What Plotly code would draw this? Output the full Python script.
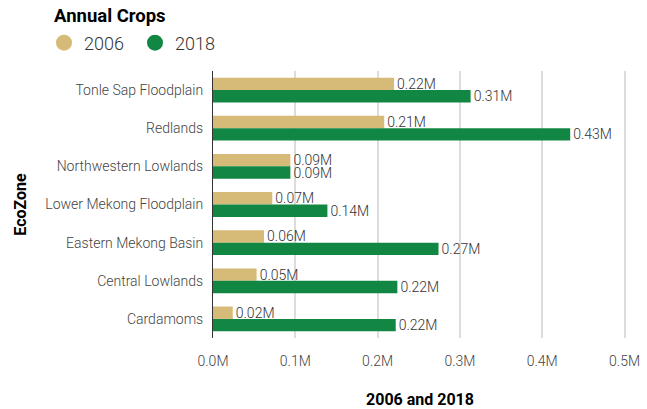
import plotly.graph_objects as go

zones = ["Tonle Sap Floodplain", "Redlands", "Northwestern Lowlands",
         "Lower Mekong Floodplain", "Eastern Mekong Basin", "Central Lowlands", "Cardamoms"]
crops_2006 = [0.220, 0.208, 0.094, 0.072, 0.062, 0.053, 0.024]
crops_2018 = [0.313, 0.434, 0.094, 0.139, 0.274, 0.224, 0.222]
series_names = ["2006", "2018"]
colors = ["#D6BA77", "#128743"]
x_ticks = [0, 0.1, 0.2, 0.3, 0.4, 0.5]
x_tick_labels = ["0.0M", "0.1M", "0.2M", "0.3M", "0.4M", "0.5M"]

FONT = "Roboto"
W, H = 647, 409
L, R, T, B = 213, 20, 71, 71
PW, PH = W - L - R, H - T - B

fig = go.Figure()
for name, vals, col in zip(series_names, [crops_2006, crops_2018], colors):
    fig.add_trace(go.Bar(
        y=zones, x=vals, orientation="h", name=name,
        marker=dict(color=col, line=dict(width=0)),
        texttemplate="%{x:.2f}M", textposition="outside",
        constraintext="none", cliponaxis=False,
        textfont=dict(family=FONT, size=14, color="#333333", weight=300),
        showlegend=False, hoverinfo="skip",
    ))
    fig.add_trace(go.Scatter(
        x=[None], y=[None], mode="markers", name=name,
        marker=dict(color=col, size=20, symbol="circle"),
        showlegend=True,
    ))

fig.add_annotation(
    text="<b>Annual Crops</b>", xref="paper", yref="paper",
    x=(52 - L) / PW, y=1 + (T - 15.5) / PH,
    xanchor="left", yanchor="middle", showarrow=False,
    font=dict(family=FONT, size=18.5, color="#000000"),
)

fig.update_layout(
    width=W, height=H,
    paper_bgcolor="white", plot_bgcolor="white",
    barmode="group", bargap=0.35, bargroupgap=0,
    margin=dict(l=L, r=R, t=T, b=B, autoexpand=False),
    font=dict(family=FONT, color="#333333"),
    legend=dict(
        orientation="h", xref="container", yref="container",
        x=(62 - 18) / W, y=1 - 43 / H, xanchor="left", yanchor="middle",
        font=dict(family=FONT, size=18, color="#333333", weight=300),
        itemwidth=30, traceorder="normal", entrywidth=46,
    ),
    xaxis=dict(
        range=[0, 0.503], tickvals=x_ticks, ticktext=x_tick_labels,
        showgrid=True, gridcolor="#DCDCDC", gridwidth=2, zeroline=False,
        tickfont=dict(family=FONT, size=14, color="#444444", weight=300),
        ticks="outside", ticklen=10, tickcolor="rgba(0,0,0,0)",
        title=dict(text="<b>2006 and 2018</b>", standoff=30,
                   font=dict(family=FONT, size=16, color="#000000")),
    ),
    yaxis=dict(
        categoryorder="array", categoryarray=zones, autorange="reversed",
        showline=True, linecolor="#333333", linewidth=1, showgrid=False,
        tickfont=dict(family=FONT, size=14, color="#444444", weight=300),
        ticks="outside", ticklen=6, tickcolor="rgba(0,0,0,0)",
        title=dict(text="<b>EcoZone</b>", standoff=14,
                   font=dict(family=FONT, size=16, color="#000000")),
    ),
)

fig.write_html("out.html", config={"displayModeBar": False},
               post_script="document.body.style.margin='0';")
